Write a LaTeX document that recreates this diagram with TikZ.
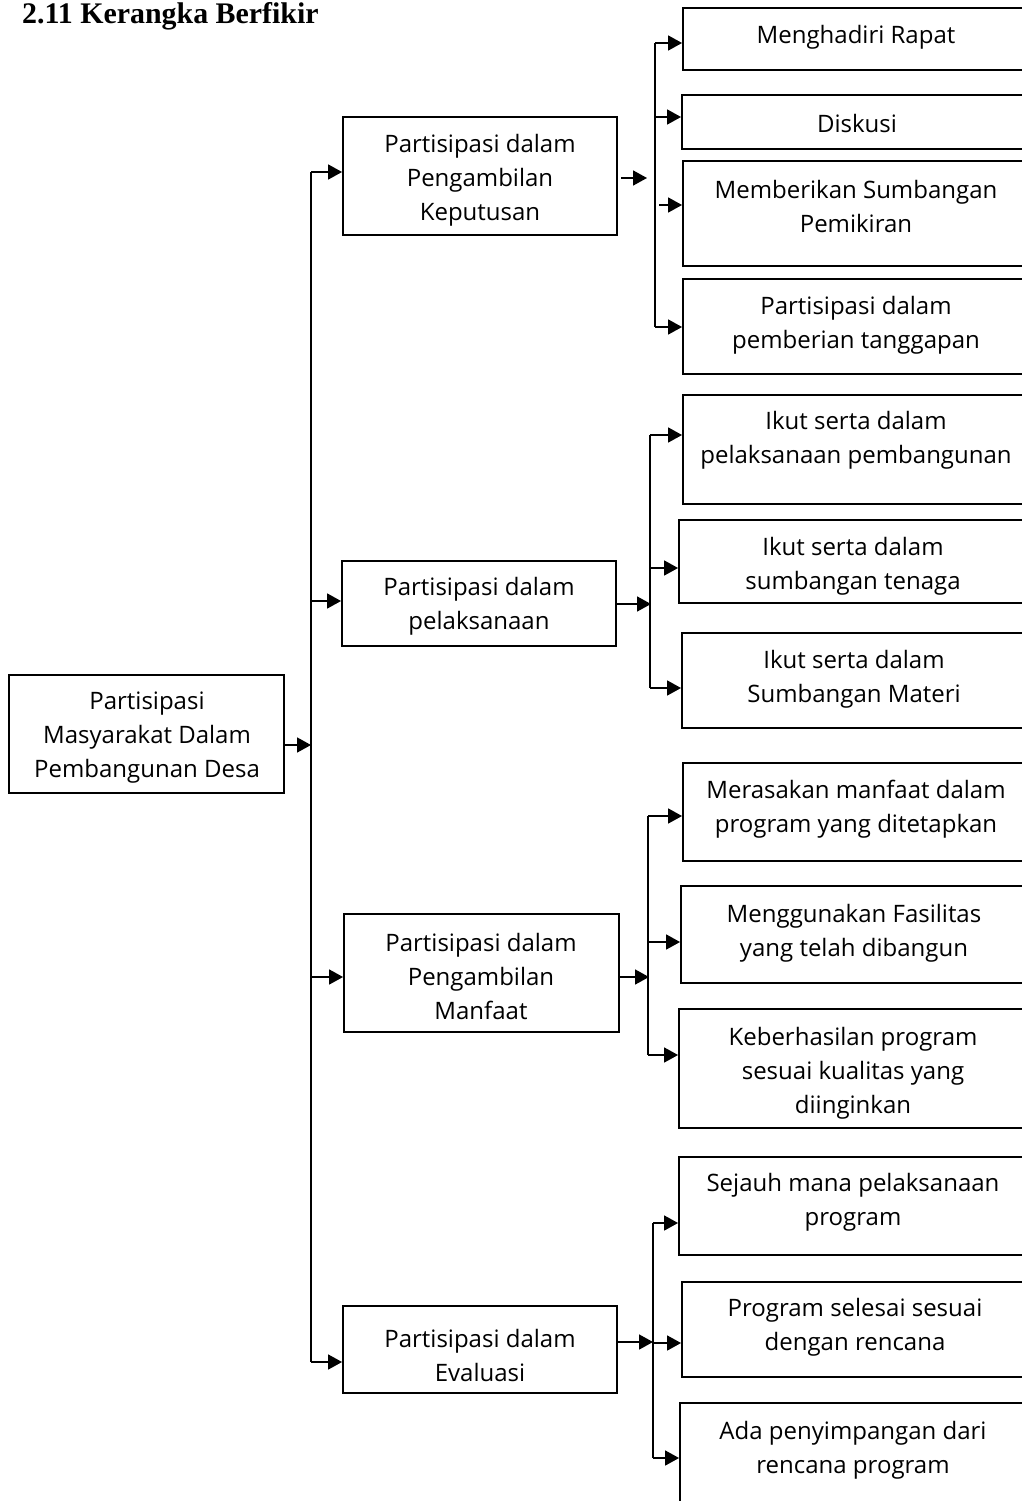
\documentclass[tikz,border=0pt]{standalone}
\usepackage{fontspec}
\setmainfont{Open Sans}
\newfontfamily\titlefont{Liberation Serif}
\usetikzlibrary{arrows.meta,fit}
\begin{document}
\begin{tikzpicture}[x=1pt,y=-1pt,
  box/.style={draw, line width=1.9pt, inner sep=0pt, rectangle},
  txt/.style={align=center, font=\fontsize{24}{34}\selectfont, inner sep=0pt},
  arr/.style={line width=1.7pt, -{Triangle[length=14pt,width=15pt]}},
  ln/.style={line width=1.7pt}]
\clip (0,0) rectangle (1022,1501);
\node[anchor=base west, inner sep=0pt, font=\titlefont\bfseries\fontsize{29.9}{30}\selectfont] (title) at (22,24) {2.11 Kerangka Berfikir};
% boxes
\node[box, fit={(9,675) (284,793)}] (root) {};
\node[box, fit={(343,117) (617,235)}] (b1) {};
\node[box, fit={(342,561) (616,646)}] (b2) {};
\node[box, fit={(344,914) (619,1032)}] (b3) {};
\node[box, fit={(343,1306) (617,1393)}] (b4) {};
\node[box, fit={(683,8) (1030,70)}] (r1) {};
\node[box, fit={(682,95) (1030,149)}] (r2) {};
\node[box, fit={(683,161) (1030,266)}] (r3) {};
\node[box, fit={(683,279) (1030,374)}] (r4) {};
\node[box, fit={(683,395) (1030,504)}] (r5) {};
\node[box, fit={(679,520) (1030,603)}] (r6) {};
\node[box, fit={(682,633) (1030,728)}] (r7) {};
\node[box, fit={(683,763) (1030,861)}] (r8) {};
\node[box, fit={(681,886) (1030,983)}] (r9) {};
\node[box, fit={(679,1009) (1030,1128)}] (r10) {};
\node[box, fit={(679,1157) (1030,1255)}] (r11) {};
\node[box, fit={(682,1282) (1030,1377)}] (r12) {};
\node[box, fit={(680,1403) (1030,1520)}] (r13) {};
% texts
\node[txt] (troot) at (147,738) {Partisipasi\\Masyarakat Dalam\\Pembangunan Desa};
\node[txt] (tb1) at (480,180) {Partisipasi dalam\\Pengambilan\\Keputusan};
\node[txt] (tb2) at (479,606) {Partisipasi dalam\\pelaksanaan};
\node[txt] (tb3) at (481,976) {Partisipasi dalam\\Pengambilan\\Manfaat};
\node[txt] (tb4) at (480,1355) {Partisipasi dalam\\Evaluasi};
\node[txt] (tr1) at (856,37) {Menghadiri Rapat};
\node[txt] (tr2) at (857,123) {Diskusi};
\node[txt] (tr3) at (856,206) {Memberikan Sumbangan\\Pemikiran};
\node[txt] (tr4) at (856,325) {Partisipasi dalam\\pemberian tanggapan};
\node[txt] (tr5) at (856,440) {Ikut serta dalam\\pelaksanaan pembangunan};
\node[txt] (tr6) at (853,566) {Ikut serta dalam\\sumbangan tenaga};
\node[txt] (tr7) at (854,679) {Ikut serta dalam\\Sumbangan Materi};
\node[txt] (tr8) at (856,809) {Merasakan manfaat dalam\\program yang ditetapkan};
\node[txt] (tr9) at (854,933) {Menggunakan Fasilitas\\yang telah dibangun};
\node[txt] (tr10) at (853,1073) {Keberhasilan program\\sesuai kualitas yang\\diinginkan};
\node[txt] (tr11) at (853,1202) {Sejauh mana pelaksanaan\\program};
\node[txt] (tr12) at (855,1327) {Program selesai sesuai\\dengan rencana};
\node[txt] (tr13) at (853,1450) {Ada penyimpangan dari\\rencana program};
% main trunk
\coordinate (v0) at (311,745);
\coordinate (vt) at (311,172);
\coordinate (vb) at (311,1362);
\draw[arr] (root.east |- v0) -- (v0);
\draw[ln] (vt) -- (vb);
\draw[arr] (vt) -- (b1.west |- vt);
\draw[arr] (311,601) -- (b2.west |- 0,601);
\draw[arr] (311,977) -- (b3.west |- 0,977);
\draw[arr] (vb) -- (b4.west |- vb);
% group 1
\coordinate (g1s) at (621,178);
\coordinate (g1e) at (647,178);
\draw[arr] (g1s) -- (g1e);
\draw[ln] (655,43) -- (655,327);
\draw[arr] (655,43) -- (r1.west |- 0,43);
\draw[arr] (655,117) -- (r2.west |- 0,117);
\draw[arr] (659,205) -- (r3.west |- 0,205);
\draw[arr] (655,327) -- (r4.west |- 0,327);
% group 2
\draw[arr] (b2.east |- 0,604) -- (651,604);
\draw[ln] (650,435) -- (650,688);
\draw[arr] (650,435) -- (r5.west |- 0,435);
\draw[arr] (650,568) -- (r6.west |- 0,568);
\draw[arr] (650,688) -- (r7.west |- 0,688);
% group 3
\draw[arr] (b3.east |- 0,977) -- (649,977);
\draw[ln] (648,816) -- (648,1055);
\draw[arr] (648,816) -- (r8.west |- 0,816);
\draw[arr] (648,942) -- (r9.west |- 0,942);
\draw[arr] (648,1055) -- (r10.west |- 0,1055);
% group 4
\draw[arr] (b4.east |- 0,1342) -- (653,1342);
\draw[ln] (653,1223) -- (653,1458);
\draw[arr] (653,1223) -- (r11.west |- 0,1223);
\draw[arr] (653,1343) -- (r12.west |- 0,1343);
\draw[arr] (653,1458) -- (r13.west |- 0,1458);
\end{tikzpicture}
\end{document}
